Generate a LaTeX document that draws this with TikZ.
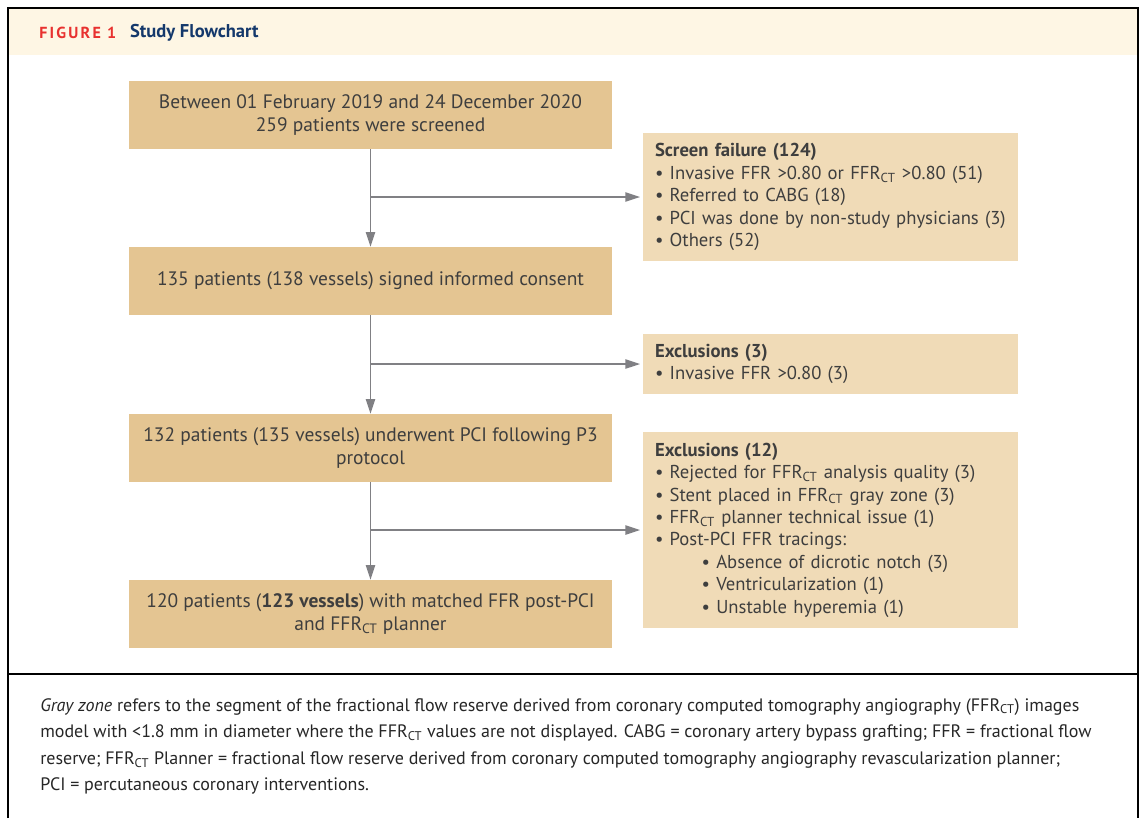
\documentclass[tikz,border=0pt]{standalone}
\usepackage{fontspec}
\setmainfont{PT Sans}
\usetikzlibrary{arrows.meta, positioning}
\definecolor{boxtan}{RGB}{228,197,146}
\definecolor{boxlight}{RGB}{240,219,183}
\definecolor{headcream}{RGB}{254,246,228}
\definecolor{figred}{RGB}{232,49,47}
\definecolor{titlenavy}{RGB}{20,56,107}
\definecolor{textgray}{RGB}{62,62,62}
\definecolor{arrowgray}{RGB}{128,128,132}
\newcommand{\ffrct}{FFR\textsubscript{CT}}
\newcommand{\subbullet}{\hspace*{35pt}\textbullet\ }

\begin{document}
\begin{tikzpicture}[
    x=0.75pt, y=-0.75pt,
    block/.style={fill=boxtan, minimum width=483*0.75pt, minimum height=68*0.75pt, align=center, text=textgray, font=\fontsize{14.6}{16.8}\selectfont, inner sep=0pt},
    sidebox/.style={fill=boxlight, minimum width=375*0.75pt, text width=351*0.75pt, align=left, text=textgray, font=\fontsize{14}{16.8}\selectfont, inner xsep=9pt, inner ysep=0pt},
    arrow/.style={-{Triangle[length=11pt, width=7pt]}, draw=arrowgray, line width=1pt}
]
\useasboundingbox (0,0) rectangle (1142,818);

% Frame and header
\fill[headcream] (9,9) rectangle (1137,55);
\draw[line width=1.5pt] (8,818) |- (1138,8) -- (1138,818);
\draw[line width=1.2pt] (8,674) -- (1138,674);
\node[anchor=west, inner sep=0pt, text=figred, font=\fontsize{12}{14}\selectfont\bfseries\addfontfeature{LetterSpace=14}] (figlabel) at (39,33) {FIGURE 1};
\node[right=10pt of figlabel, inner sep=0pt, text=titlenavy, font=\fontsize{13.9}{16}\selectfont\bfseries] (figtitle) {Study Flowchart};

% Main flow
\node[block] (screened) at (370.5,115) {Between 01 February 2019 and 24 December 2020\\259 patients were screened};
\node[block] (consent) at (370.5,281) {135 patients (138 vessels) signed informed consent};
\node[block] (pci) at (370.5,448) {132 patients (135 vessels) underwent PCI following P3\\protocol};
\node[block] (matched) at (370.5,614) {120 patients (\textbf{123 vessels}) with matched FFR post-PCI\\and \ffrct{} planner};

% Side boxes
\node[sidebox, minimum height=128*0.75pt] (failure) at (830.5,197) {\textbf{Screen failure (124)}\\
\textbullet\ Invasive FFR >0.80 or \ffrct{} >0.80 (51)\\
\textbullet\ Referred to CABG (18)\\
\textbullet\ PCI was done by non-study physicians (3)\\
\textbullet\ Others (52)};
\node[sidebox, minimum height=60*0.75pt] (excl1) at (830.5,364) {\textbf{Exclusions (3)}\\
\textbullet\ Invasive FFR >0.80 (3)};
\node[sidebox, minimum height=196*0.75pt] (excl2) at (830.5,530) {\textbf{Exclusions (12)}\\
\textbullet\ Rejected for \ffrct{} analysis quality (3)\\
\textbullet\ Stent placed in \ffrct{} gray zone (3)\\
\textbullet\ \ffrct{} planner technical issue (1)\\
\textbullet\ Post-PCI FFR tracings:\\
\subbullet Absence of dicrotic notch (3)\\
\subbullet Ventricularization (1)\\
\subbullet Unstable hyperemia (1)};

% Arrows
\draw[arrow] (screened) -- (consent);
\draw[arrow] (consent) -- (pci);
\draw[arrow] (pci) -- (matched);
\draw[arrow, shorten >=2pt] (screened.south |- failure.west) -- (failure.west);
\draw[arrow, shorten >=2pt] (consent.south |- excl1.west) -- (excl1.west);
\draw[arrow, shorten >=2pt] (pci.south |- excl2.west) -- (excl2.west);

% Caption
\node[anchor=north west, inner sep=0pt, align=left, text=black!85, font=\fontsize{13.5}{19.9}\selectfont] (caption) at (40,698) {\textit{Gray zone} refers to the segment of the fractional flow reserve derived from coronary computed tomography angiography (\ffrct) images\\
model with <1.8 mm in diameter where the \ffrct{} values are not displayed. CABG = coronary artery bypass grafting; FFR = fractional flow\\
reserve; \ffrct{} Planner = fractional flow reserve derived from coronary computed tomography angiography revascularization planner;\\
PCI = percutaneous coronary interventions.};
\end{tikzpicture}
\end{document}
